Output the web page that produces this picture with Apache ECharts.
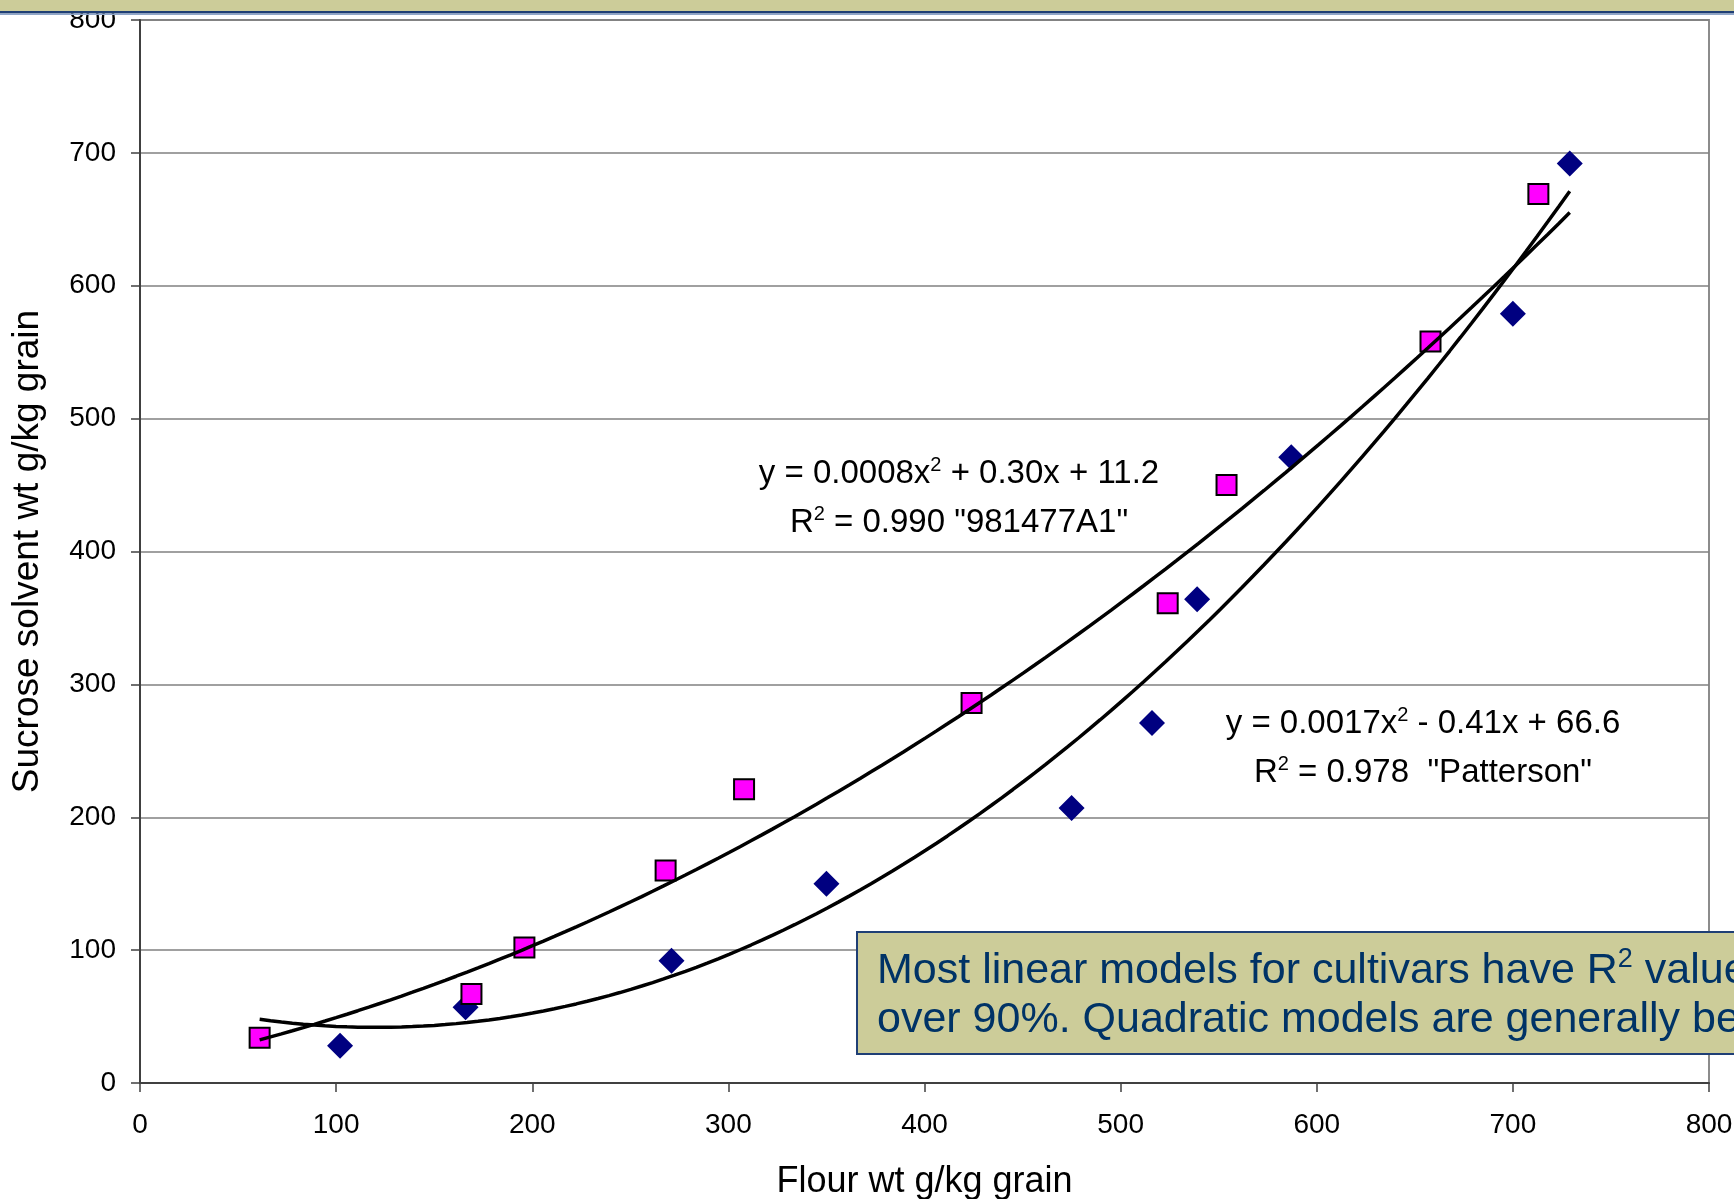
<!DOCTYPE html>
<html>
<head>
<meta charset="utf-8">
<script src="https://cdn.jsdelivr.net/npm/echarts@6/dist/echarts.min.js"></script>
<style>
  html, body { margin: 0; padding: 0; background: #ffffff; }
  #chart { width: 1734px; height: 1199px; }
</style>
</head>
<body>
<div id="chart"></div>
<script>
// Cultivar "981477A1": flour weight vs sucrose solvent weight (g/kg grain)
const flourA1   = [61, 169, 196, 268, 308, 424, 524, 554, 658, 713];
const sucroseA1 = [34, 67, 102, 160, 221, 286, 361, 450, 558, 669];

// Cultivar "Patterson"
const flourPat   = [102, 166, 271, 350, 475, 516, 539, 587, 700, 729];
const sucrosePat = [28, 57, 92, 150, 207, 271, 364, 471, 579, 692];

// Quadratic trendline coefficients [a, b, c] for y = a*x^2 + b*x + c
const fitA1  = [0.0008, 0.30, 11.2];
const fitPat = [0.0017, -0.41, 66.6];

// Axis ticks
const xTicks = [0, 100, 200, 300, 400, 500, 600, 700, 800];
const yTicks = [0, 100, 200, 300, 400, 500, 600, 700, 800];

const FONT = "'Liberation Sans', Arial, sans-serif";

function pairs(xs, ys) { return xs.map((x, i) => [x, ys[i]]); }

// Trendline polyline over the full span of flour weights
const allX = flourA1.concat(flourPat);
const xLo = Math.min.apply(null, allX);
const xHi = Math.max.apply(null, allX);
function curve(c) {
  const pts = [];
  const n = 120;
  for (let i = 0; i <= n; i++) {
    const x = xLo + (xHi - xLo) * i / n;
    pts.push([x, c[0] * x * x + c[1] * x + c[2]]);
  }
  return pts;
}

// Text with a raised, smaller "2"
function eqText(x, y, text, size, color, align) {
  return {
    type: 'text', z: 111, x: x, y: y,
    style: {
      text: text,
      fontFamily: FONT, fontSize: size, fill: color,
      textAlign: align, textVerticalAlign: 'middle',
      rich: {
        n: { fontFamily: FONT, fontSize: size, fill: color, lineHeight: size * 1.15 },
        sup: { fontFamily: FONT, fontSize: Math.round(size * 0.62), fill: color, verticalAlign: 'top', lineHeight: Math.round(size * 0.55) }
      }
    }
  };
}

const chart = echarts.init(document.getElementById('chart'), null, { renderer: 'canvas' });

chart.setOption({
  backgroundColor: '#ffffff',
  animation: false,
  textStyle: { fontFamily: FONT },
  grid: {
    left: 140, top: 20, right: 25, bottom: 116,
    containLabel: false,
    outerBoundsMode: 'none',
    show: true, borderColor: '#8c8c8c', borderWidth: 2, backgroundColor: 'transparent'
  },
  xAxis: {
    type: 'value',
    min: xTicks[0], max: xTicks[xTicks.length - 1], interval: xTicks[1] - xTicks[0],
    name: 'Flour wt g/kg grain',
    nameLocation: 'middle', nameGap: 81,
    nameTextStyle: { fontSize: 36, color: '#000', fontFamily: FONT },
    axisLine: { show: true, onZero: false, lineStyle: { color: '#404040', width: 2 } },
    axisTick: { show: true, inside: false, length: 9, lineStyle: { color: '#404040', width: 1.5 } },
    axisLabel: { fontSize: 28, color: '#000', margin: 28, fontFamily: FONT },
    splitLine: { show: false }
  },
  yAxis: {
    type: 'value',
    min: yTicks[0], max: yTicks[yTicks.length - 1], interval: yTicks[1] - yTicks[0],
    name: 'Sucrose solvent wt g/kg grain',
    nameLocation: 'middle', nameGap: 94,
    nameTextStyle: { fontSize: 37, color: '#000', fontFamily: FONT },
    axisLine: { show: true, onZero: false, lineStyle: { color: '#404040', width: 2 } },
    axisTick: { show: true, inside: false, length: 9, lineStyle: { color: '#404040', width: 1.5 } },
    axisLabel: { fontSize: 28, color: '#000', margin: 24, fontFamily: FONT },
    splitLine: { show: true, lineStyle: { color: '#808080', width: 1.5 } }
  },
  series: [
    {
      name: 'Patterson',
      type: 'scatter',
      data: pairs(flourPat, sucrosePat),
      symbol: 'diamond',
      symbolSize: [26, 26],
      itemStyle: { color: '#000080', opacity: 1 },
      z: 3
    },
    {
      name: '981477A1',
      type: 'scatter',
      data: pairs(flourA1, sucroseA1),
      symbol: 'rect',
      symbolSize: [20, 20],
      itemStyle: { color: '#ff00ff', borderColor: '#000000', borderWidth: 2, opacity: 1 },
      z: 4
    },
    {
      name: 'Poly. (981477A1)',
      type: 'line',
      data: curve(fitA1),
      showSymbol: false,
      smooth: false,
      lineStyle: { color: '#000', width: 3.5 },
      z: 5
    },
    {
      name: 'Poly. (Patterson)',
      type: 'line',
      data: curve(fitPat),
      showSymbol: false,
      smooth: false,
      lineStyle: { color: '#000', width: 3.5 },
      z: 5
    }
  ],
  graphic: [
    // Slide title band along the top edge
    { type: 'rect', z: 100, shape: { x: 0, y: 0, width: 1734, height: 11 }, style: { fill: '#cccc99' } },
    { type: 'rect', z: 100, shape: { x: 0, y: 11, width: 1734, height: 2.5 }, style: { fill: '#1f3f75' } },
    { type: 'rect', z: 100, shape: { x: 0, y: 13.5, width: 1734, height: 1.5 }, style: { fill: '#8fa6c8' } },

    // Trendline equations
    eqText(959, 474, '{n|y = 0.0008x}{sup|2}{n| + 0.30x + 11.2}', 33, '#000', 'center'),
    eqText(959, 523, '{n|R}{sup|2}{n| = 0.990 "981477A1"}', 33, '#000', 'center'),
    eqText(1423, 724, '{n|y = 0.0017x}{sup|2}{n| - 0.41x + 66.6}', 33, '#000', 'center'),
    eqText(1423, 773, '{n|R}{sup|2}{n| = 0.978  "Patterson"}', 33, '#000', 'center'),

    // Callout box in the lower right
    { type: 'rect', z: 110, shape: { x: 857, y: 932, width: 900, height: 122 }, style: { fill: '#cccc99', stroke: '#1f3f75', lineWidth: 2 } },
    eqText(877, 971, '{n|Most linear models for cultivars have R}{sup|2}{n| values}', 43, '#003366', 'left'),
    eqText(877, 1020, '{n|over 90%. Quadratic models are generally better.}', 43, '#003366', 'left')
  ]
});
</script>
</body>
</html>
